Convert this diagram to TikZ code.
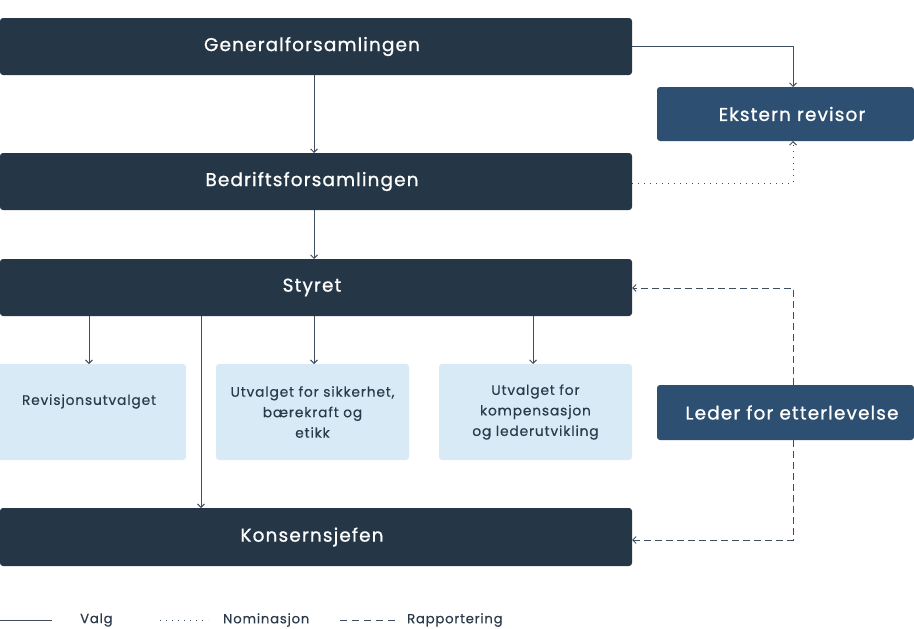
\documentclass[tikz,border=0pt]{standalone}
\usepackage{fontspec}
\setmainfont{Poppins}[LetterSpace=6,FakeBold=0.4]
\newfontfamily\headfont{Poppins}[LetterSpace=6,FakeBold=0.9]
\usetikzlibrary{arrows.meta}
\definecolor{navy}{HTML}{253747}
\definecolor{blue2}{HTML}{2C4F72}
\definecolor{light}{HTML}{D8EAF5}
\definecolor{linec}{HTML}{3E4E5E}
\definecolor{txt}{HTML}{2A3A4A}
\tikzset{
  x=1pt, y=-1pt,
  darkbox/.style={fill=navy, rounded corners=3pt},
  bluebox/.style={fill=blue2, rounded corners=3pt},
  lightbox/.style={fill=light, rounded corners=3pt},
  headtext/.style={text=white, font=\headfont\fontsize{18.5}{22}\selectfont},
  smalltext/.style={text=txt, font=\fontsize{13.8}{20.5}\selectfont, align=center},
  conn/.style={draw=linec, line width=1pt, -{Straight Barb[length=3.5pt,width=7pt,line width=0.9pt]}},
  dotconn/.style={conn, dash pattern=on 1.2pt off 4.8pt},
  dashconn/.style={conn, dash pattern=on 7pt off 4pt},
  legtext/.style={text=txt, font=\fontsize{13.2}{16}\selectfont, anchor=west, inner sep=0pt}
}
\begin{document}
\begin{tikzpicture}
\useasboundingbox (0,0) rectangle (914,629);
\path[darkbox] (0,18) rectangle (632,75);
\node[headtext] (gf) at (312,46.5) {Generalforsamlingen};
\coordinate (gfR) at (632,46);
\coordinate (gfB) at (314,75);
\path[darkbox] (0,153) rectangle (632,210);
\node[headtext] (bf) at (312,181.5) {Bedriftsforsamlingen};
\coordinate (bfT) at (314,153);
\coordinate (bfB) at (314,210);
\coordinate (bfR) at (632,183);
\path[darkbox] (0,259) rectangle (632,316);
\node[headtext] (st) at (312,287.5) {Styret};
\coordinate (stT) at (314,259);
\coordinate (stR) at (632,288);
\path[darkbox] (0,508) rectangle (632,566);
\node[headtext] (ks) at (312,537) {Konsernsjefen};
\coordinate (ksT) at (201,508);
\coordinate (ksR) at (632,540);

\path[bluebox] (657,87) rectangle (914,141);
\node[headtext] (ek) at (792,114) {Ekstern revisor};
\coordinate (ekT) at (793,87);
\coordinate (ekB) at (793,141);
\path[bluebox] (657,385) rectangle (914,440);
\node[headtext] (le) at (792,412.5) {Leder for etterlevelse};
\coordinate (leT) at (793,385);
\coordinate (leB) at (793,440);

\path[lightbox] (-4,364) rectangle (186,460);
\node[smalltext] (r1) at (89,401.5) {Revisjonsutvalget};
\path[lightbox] (216,364) rectangle (409,460);
\node[smalltext] (r2) at (312.5,412) {Utvalget for sikkerhet,\\bærekraft og\\etikk};
\path[lightbox] (439,364) rectangle (632,460);
\node[smalltext] (r3) at (535.5,412) {Utvalget for\\kompensasjon\\og lederutvikling};
\coordinate (r1T) at (89,364);
\coordinate (r2T) at (314,364);
\coordinate (r3T) at (533,364);

\draw[conn] (gfB) -- (bfT);
\draw[conn] (bfB) -- (stT);
\draw[conn] (89,316) -- (r1T);
\draw[conn] (314,316) -- (r2T);
\draw[conn] (533,316) -- (r3T);
\draw[conn] (201,316) -- (ksT);
\draw[conn] (gfR) -| (ekT);
\draw[dotconn] (bfR) -| (ekB);
\draw[dashconn] (leT) |- (stR);
\draw[dashconn] (leB) |- (ksR);

\coordinate (l1a) at (0,620); \coordinate (l1b) at (52,620);
\draw[draw=linec, line width=1pt] (l1a) -- (l1b);
\node[legtext] (lv) at (80,620) {Valg};
\coordinate (l2a) at (160,620); \coordinate (l2b) at (208,620);
\draw[draw=linec, line width=1pt, dash pattern=on 1.2pt off 4.8pt] (l2a) -- (l2b);
\node[legtext] (ln) at (223,620) {Nominasjon};
\coordinate (l3a) at (340,620); \coordinate (l3b) at (395,620);
\draw[draw=linec, line width=1pt, dash pattern=on 7pt off 5pt] (l3a) -- (l3b);
\node[legtext] (lr) at (407,620) {Rapportering};
\end{tikzpicture}
\end{document}
